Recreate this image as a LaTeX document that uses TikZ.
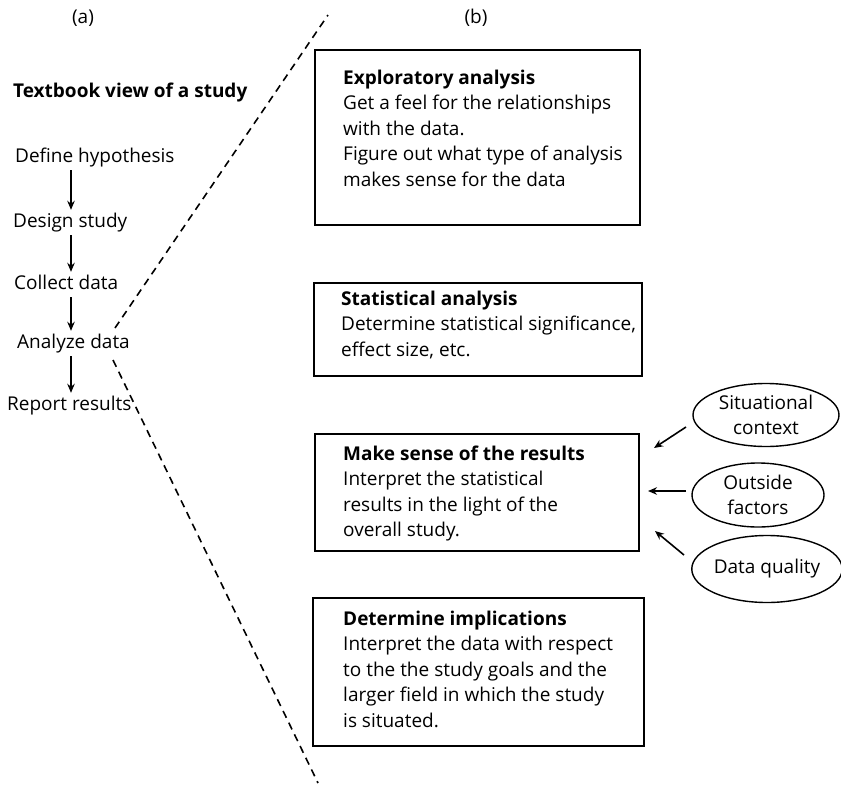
\documentclass[tikz,border=0pt]{standalone}
\usepackage{fontspec}
\setmainfont{Open Sans}
\usetikzlibrary{arrows.meta,shapes.geometric}
\newcommand\fl{\rule{0pt}{16pt}}
\begin{document}
\begin{tikzpicture}[x=1pt,y=-1pt,
 every node/.style={font=\fontsize{19}{25.5}\selectfont},
 box/.style={draw, line width=1.8pt, anchor=north west, inner sep=0pt},
 txt/.style={align=left, anchor=north west, inner sep=0pt},
 one/.style={anchor=base west, inner sep=0pt},
 lbl/.style={anchor=base west, inner sep=0pt, text height=15pt, text depth=5pt},
 oval/.style={draw, ellipse, line width=1.4pt, inner sep=0pt, align=center, font=\fontsize{19}{25}\selectfont},
 arr/.style={line width=1.6pt, -{Stealth[length=9pt,width=7.5pt]}},
 cut/.style={line width=1.6pt, dash pattern=on 7.5pt off 5.5pt}]
\useasboundingbox (0,0) rectangle (841,785);

% (a) / (b)
\node[inner sep=0pt, anchor=base] (la) at (83,23) {(a)};
\node[inner sep=0pt, anchor=base] (lb) at (476,23) {(b)};

% left column
\node[one] (tb) at (13,97) {\textbf{Textbook view of a study}};
\node[lbl] (d1) at (15,162) {Define hypothesis};
\node[lbl] (d2) at (13,227) {Design study};
\node[lbl] (d3) at (14,289) {Collect data};
\node[lbl] (d4) at (17,348) {Analyze data};
\node[lbl] (d5) at (7,410) {Report results};
\coordinate (ax) at (71,0);
\foreach \a/\b in {d1/d2,d2/d3,d3/d4,d4/d5}
  \draw[arr, shorten <=3pt, shorten >=2pt] (\a.south -| ax) -- (\b.north -| ax);

% dashed zoom lines
\coordinate (c0) at (115,328);
\coordinate (c1) at (328,15);
\coordinate (c2) at (113,360);
\coordinate (c3) at (318,783);
\draw[cut] (c0) -- (c1);
\draw[cut] (c2) -- (c3);

% boxes
\node[box, minimum width=325pt, minimum height=175pt] (b1) at (314,49) {};
\node[box, minimum width=328pt, minimum height=93pt] (b2) at (313,282) {};
\node[box, minimum width=324pt, minimum height=117pt] (b3) at (314,433) {};
\node[box, minimum width=331pt, minimum height=148pt] (b4) at (312,597) {};

\node[txt] (t1) at (343,68) {\fl\textbf{Exploratory analysis}\\Get a feel for the relationships\\with the data.\\Figure out what type of analysis\\makes sense for the data};
\node[txt] (t2) at (341,289) {\fl\textbf{Statistical analysis}\\Determine statistical significance,\\effect size, etc.};
\node[txt] (t3) at (343,444) {\fl\textbf{Make sense of the results}\\Interpret the statistical\\results in the light of the\\overall study.};
\node[txt] (t4) at (343,609) {\fl\textbf{Determine implications}\\Interpret the data with respect\\to the the study goals and the\\larger field in which the study\\is situated.};

% ellipses
\node[oval, minimum width=146pt, minimum height=63pt] (e1) at (766,415) {Situational\\context};
\node[oval, minimum width=132pt, minimum height=64pt] (e2) at (758,495) {Outside\\factors};
\node[oval, minimum width=145pt, minimum height=67pt] (e3) at (767,569) {Data quality};

\coordinate (s1) at (686,427);
\coordinate (s2) at (654,448);
\coordinate (o1) at (686,491);
\coordinate (o2) at (648,491);
\coordinate (q1) at (684,555);
\coordinate (q2) at (655,531);
\draw[arr] (s1) -- (s2);
\draw[arr] (o1) -- (o2);
\draw[arr] (q1) -- (q2);
\end{tikzpicture}
\end{document}
